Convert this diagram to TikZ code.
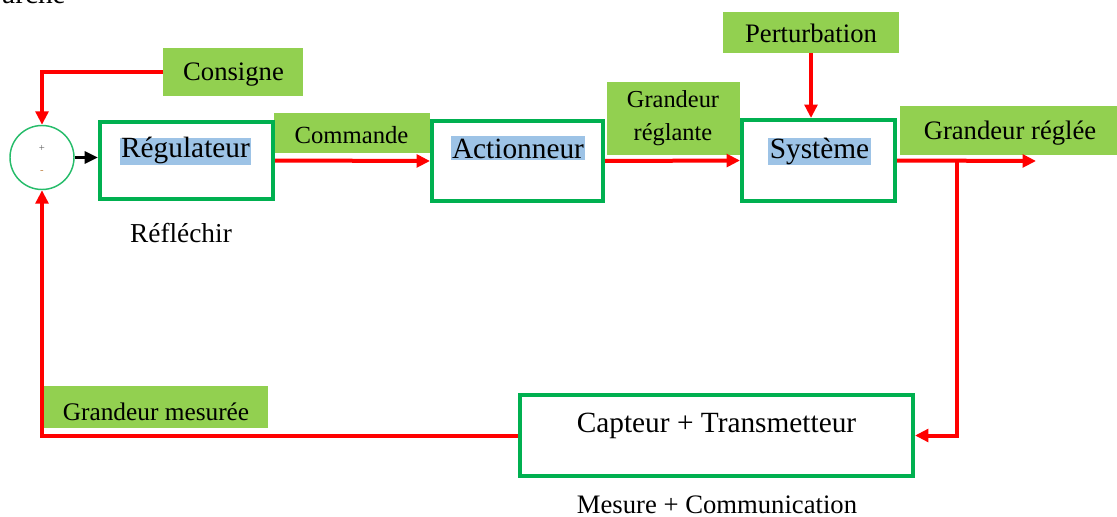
\documentclass[tikz,border=0pt]{standalone}
\usepackage{fontspec}
\setmainfont{Liberation Serif}
\usetikzlibrary{arrows.meta}
\definecolor{gfill}{HTML}{92D050}
\definecolor{gline}{HTML}{00B050}
\definecolor{rline}{HTML}{FF0000}
\definecolor{hlc}{HTML}{9DC3E6}
\begin{document}
\begin{tikzpicture}[x=0.75pt,y=-0.75pt,
  blockbox/.style={draw=gline,line width=3pt,inner sep=0pt},
  greenrect/.style={fill=gfill,inner sep=0pt},
  txt/.style={font=\fontsize{#1}{#1}\selectfont,inner sep=0pt,anchor=base},
  hltxt/.style={fill=hlc,inner xsep=1pt,inner ysep=0pt,anchor=base,font=\fontsize{22}{26}\selectfont},
  redarrow/.style={draw=rline,line width=3pt,-{Triangle[length=10pt,width=9.5pt]}},
]
\useasboundingbox (0,0) rectangle (1117,517);
\clip (0,0) rectangle (1117,517);

% partial text at the top
\node[txt=22,anchor=base east] (toptext) at (66,4) {arche};

% green label rectangles
\node[greenrect,minimum width=105pt,minimum height=36pt] (consR) at (233,72) {};
\node[greenrect,minimum width=117pt,minimum height=30pt] (commR) at (352,133) {};
\node[greenrect,minimum width=99.75pt,minimum height=54.75pt] (reglR) at (673.5,118.5) {};
\node[greenrect,minimum width=132pt,minimum height=30.75pt] (pertR) at (811,32.5) {};
\node[greenrect,minimum width=162.75pt,minimum height=36.75pt] (regleeR) at (1008.5,130.5) {};
\node[greenrect,minimum width=168.75pt,minimum height=31.5pt] (mesR) at (155.5,407) {};

% label texts
\node[txt=20] (consT) at (233.5,80) {Consigne};
\node[txt=18.5] (commT) at (351.5,143) {Commande};
\node[txt=18.3] (reglT1) at (673,108) {Grandeur};
\node[txt=18.3] (reglT2) at (673,140) {réglante};
\node[txt=20] (pertT) at (811,43) {Perturbation};
\node[txt=20] (regleeT) at (1010,139) {Grandeur réglée};
\node[txt=19] (mesT) at (156,420) {Grandeur mesurée};
\node[txt=20.5] (reflT) at (181,242) {Réfléchir};
\node[txt=20] (mcT) at (717,513) {Mesure + Communication};

% summing junction
\node[circle,draw=gline!85!white,line width=1.1pt,minimum size=48pt,inner sep=0pt] (sum) at (42,157.5) {};
\node[font=\fontsize{8}{9}\selectfont,text=gray!70!black,inner sep=0pt] (plus) at (42,148) {+};
\node[font=\fontsize{8}{9}\selectfont,text=brown,inner sep=0pt] (minus) at (42,172) {-};

% blocks
\node[blockbox,minimum width=129.75pt,minimum height=57.75pt] (reg) at (186.5,160.5) {};
\node[blockbox,minimum width=128.25pt,minimum height=60pt] (act) at (517.5,161) {};
\node[blockbox,minimum width=114.75pt,minimum height=60.75pt] (sys) at (818.5,160.5) {};
\node[blockbox,minimum width=294.75pt,minimum height=60.75pt] (capt) at (716.5,435.5) {};

% block texts
\node[hltxt,text height=14.25pt,text depth=6pt] (regT) at (185.5,157) {Régulateur};
\node[hltxt,text height=16.5pt,text depth=1.5pt] (actT) at (518,158) {Actionneur};
\node[hltxt,text height=15pt,text depth=5.25pt] (sysT) at (819.5,158) {Système};
\node[txt=22] (captT) at (716.5,432) {Capteur + Transmetteur};

% connectors
\coordinate (outEnd) at (1036,161);
\coordinate (branch) at (957,161);
\draw[redarrow] (consR.west) -| (sum.north);
\draw[line width=2.2pt,-{Triangle[length=10pt,width=9pt]}] (sum.east) -- (sum.east -| reg.west);
\draw[redarrow] (reg.east) -- (act.west);
\draw[redarrow] (act.east) -- (sys.west);
\draw[redarrow] (pertR.south) -- (pertR.south |- sys.north);
\draw[redarrow] (sys.east) -- (outEnd);
\draw[redarrow] (branch) |- (capt.east);
\draw[redarrow] (capt.west) -| (sum.south);
\end{tikzpicture}
\end{document}
